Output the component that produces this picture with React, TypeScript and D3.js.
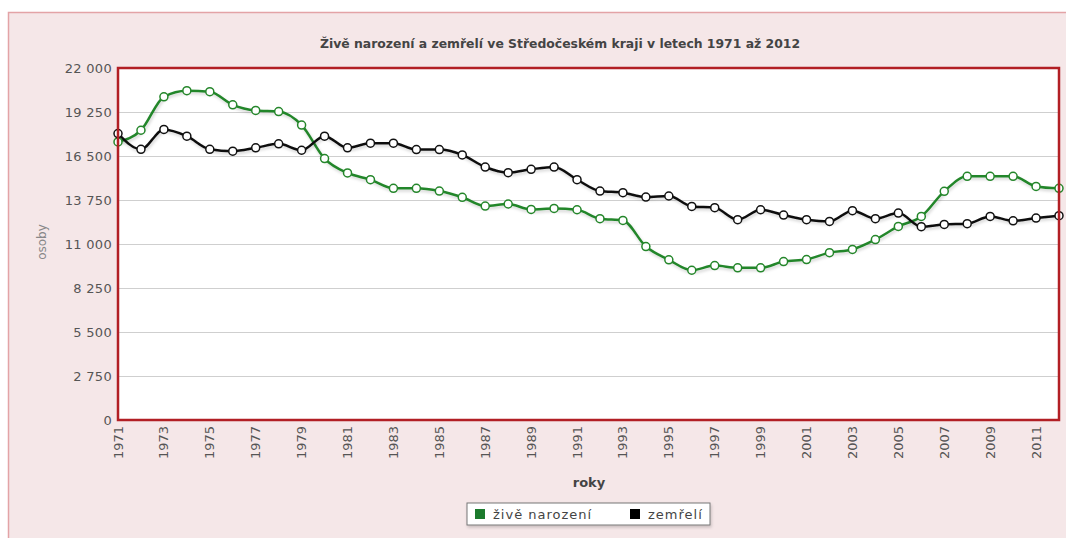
import React, { useEffect, useRef } from 'react';
import * as d3 from 'd3';

const years = d3.range(1971, 2013);

const ziveNarozeni = [
  17380, 18110, 20200, 20580, 20520, 19700, 19350, 19280, 18430, 16340,
  15440, 15020, 14480, 14480, 14310, 13920, 13370, 13500, 13160, 13220,
  13140, 12580, 12470, 10840, 10010, 9360, 9650, 9510, 9510, 9900,
  10030, 10460, 10660, 11280, 12100, 12720, 14290, 15230, 15230, 15230,
  14600, 14480,
];

const zemreli = [
  17900, 16920, 18160, 17740, 16920, 16800, 17010, 17260, 16860, 17740,
  17010, 17300, 17300, 16900, 16900, 16570, 15810, 15460, 15670, 15810,
  15020, 14310, 14210, 13930, 14000, 13350, 13270, 12520, 13140, 12810,
  12520, 12410, 13080, 12580, 12930, 12080, 12220, 12270, 12720, 12450,
  12620, 12770,
];

const yTicks = [0, 2750, 5500, 8250, 11000, 13750, 16500, 19250, 22000];
const xTickYears = d3.range(1971, 2013, 2);

const seriesNames = ['živě narození', 'zemřelí'];
const seriesColors = ['#24862a', '#111111'];
const legendColors = ['#1c7a2c', '#000000'];

const W = 1066;
const H = 538;
const plot = { left: 118, top: 68, right: 1059, bottom: 420 };
const FONT = 'DejaVu Sans, Verdana, sans-serif';

const fmt = (v: number) => d3.format(',')(v).replace(/,/g, ' ');

const App: React.FC = () => {
  const svgRef = useRef<SVGSVGElement>(null);

  useEffect(() => {
    const svg = d3.select(svgRef.current);
    svg.selectAll('*').remove();

    const x = d3.scaleLinear().domain([1971, 2012]).range([plot.left, plot.right]);
    const y = d3.scaleLinear().domain([0, 22000]).range([plot.bottom, plot.top]);

    const defs = svg.append('defs');
    const f = defs.append('filter').attr('id', 'shadow').attr('x', '-5%').attr('y', '-20%').attr('width', '110%').attr('height', '140%');
    f.append('feDropShadow').attr('dx', 1).attr('dy', 2).attr('stdDeviation', 1.5)
      .attr('flood-color', '#000').attr('flood-opacity', 0.18);

    // background
    svg.append('rect').attr('x', 0).attr('y', 0).attr('width', W).attr('height', H).attr('fill', '#ffffff');
    svg.append('rect')
      .attr('x', 8.5).attr('y', 12.5).attr('width', W + 20).attr('height', H + 20)
      .attr('fill', '#f5e7e8').attr('stroke', '#e3a3a6').attr('stroke-width', 1.5);

    // plot area
    svg.append('rect')
      .attr('x', plot.left).attr('y', plot.top)
      .attr('width', plot.right - plot.left).attr('height', plot.bottom - plot.top)
      .attr('fill', '#ffffff');

    // grid
    svg.append('g')
      .selectAll('line')
      .data(yTicks.slice(1, -1))
      .join('line')
      .attr('x1', plot.left).attr('x2', plot.right)
      .attr('y1', d => Math.round(y(d)) + 0.5).attr('y2', d => Math.round(y(d)) + 0.5)
      .attr('stroke', '#cfcfcf').attr('stroke-width', 1);

    // y axis labels
    svg.append('g')
      .selectAll('text')
      .data(yTicks)
      .join('text')
      .attr('x', 112).attr('y', d => y(d))
      .attr('dy', '0.35em')
      .attr('text-anchor', 'end')
      .attr('font-family', FONT)
      .attr('font-size', 13)
      .attr('letter-spacing', 0.3)
      .attr('fill', '#555')
      .text(d => fmt(d));

    // x axis labels
    svg.append('g')
      .selectAll('text')
      .data(xTickYears)
      .join('text')
      .attr('transform', d => `translate(${x(d)},426) rotate(-90)`)
      .attr('dy', '0.35em')
      .attr('text-anchor', 'end')
      .attr('font-family', FONT)
      .attr('font-size', 13)
      .attr('fill', '#555')
      .text(d => String(d));

    // lines
    const series = [ziveNarozeni, zemreli];
    const line = d3.line<number>()
      .x((_, i) => x(years[i]))
      .y(d => y(d))
      .curve(d3.curveMonotoneX);

    series.forEach((vals, si) => {
      const g = svg.append('g').attr('filter', 'url(#shadow)');
      g.append('path')
        .datum(vals)
        .attr('d', line)
        .attr('fill', 'none')
        .attr('stroke', seriesColors[si])
        .attr('stroke-width', 2.5)
        .attr('stroke-linejoin', 'round');
    });
    series.forEach((vals, si) => {
      svg.append('g')
        .selectAll('circle')
        .data(vals)
        .join('circle')
        .attr('cx', (_, i) => x(years[i]))
        .attr('cy', d => y(d))
        .attr('r', 4)
        .attr('fill', '#ffffff')
        .attr('stroke', seriesColors[si])
        .attr('stroke-width', 1.5);
    });

    // plot border
    svg.append('rect')
      .attr('x', plot.left).attr('y', plot.top)
      .attr('width', plot.right - plot.left).attr('height', plot.bottom - plot.top)
      .attr('fill', 'none').attr('stroke', '#b21f24').attr('stroke-width', 2.5);

    // title
    svg.append('text')
      .attr('x', 560).attr('y', 48)
      .attr('text-anchor', 'middle')
      .attr('font-family', FONT)
      .attr('font-size', 12.4)
      .attr('font-weight', 'bold')
      .attr('fill', '#444')
      .text('Živě narození a zemřelí ve Středočeském kraji v letech 1971 až 2012');

    // axis titles
    svg.append('text')
      .attr('transform', 'translate(42,242) rotate(-90)')
      .attr('dy', '0.35em')
      .attr('text-anchor', 'middle')
      .attr('font-family', FONT)
      .attr('font-size', 12)
      .attr('fill', '#888')
      .text('osoby');

    svg.append('text')
      .attr('x', 589).attr('y', 487)
      .attr('text-anchor', 'middle')
      .attr('font-family', FONT)
      .attr('font-size', 13)
      .attr('font-weight', 'bold')
      .attr('fill', '#444')
      .text('roky');

    // legend
    const lg = svg.append('g').attr('transform', 'translate(467,503)');
    lg.append('rect')
      .attr('x', 0).attr('y', 0).attr('width', 243).attr('height', 22)
      .attr('fill', '#ffffff').attr('stroke', '#777').attr('stroke-width', 1)
      .attr('filter', 'url(#shadow)');
    const itemX = [8, 163];
    seriesNames.forEach((name, i) => {
      lg.append('rect')
        .attr('x', itemX[i]).attr('y', 6).attr('width', 10).attr('height', 10)
        .attr('fill', legendColors[i]);
      lg.append('text')
        .attr('x', itemX[i] + 18).attr('y', 11)
        .attr('dy', '0.35em')
        .attr('font-family', FONT)
        .attr('font-size', 13)
        .attr('letter-spacing', 1)
        .attr('fill', '#444')
        .text(name);
    });
  }, []);

  return (
    <svg
      ref={svgRef}
      width={W}
      height={H}
      style={{ position: 'absolute', left: 0, top: 0, display: 'block' }}
    />
  );
};

export default App;
